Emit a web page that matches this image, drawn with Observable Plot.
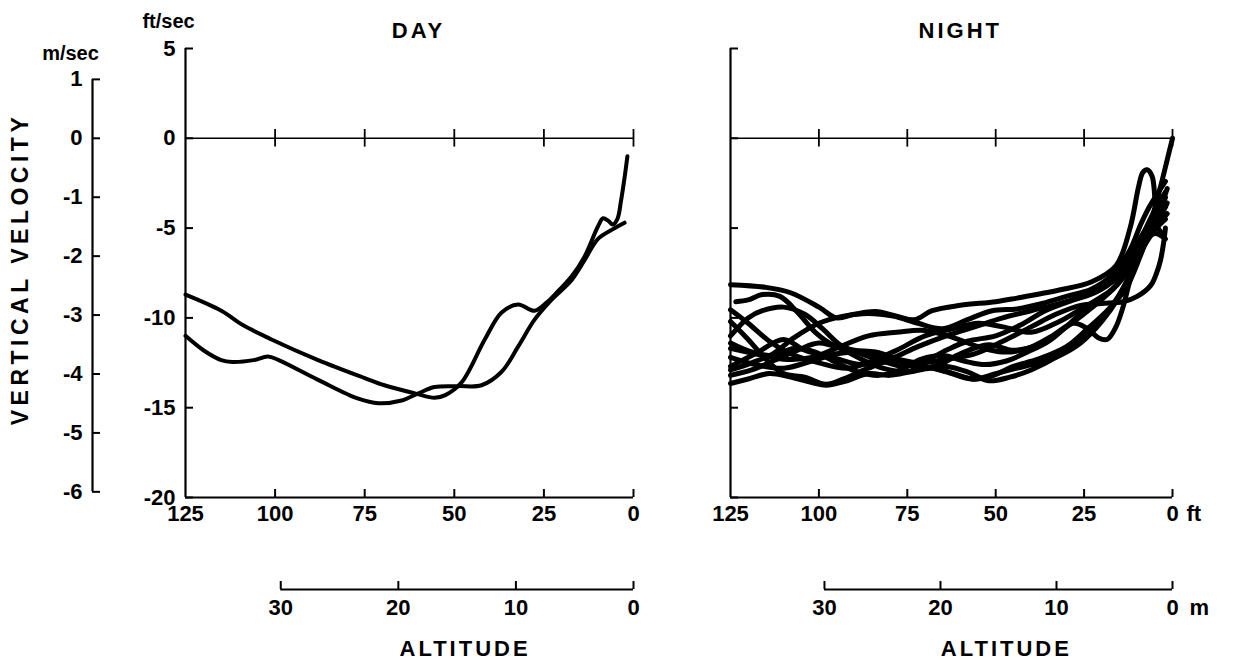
<!DOCTYPE html>
<html><head><meta charset="utf-8">
<script src="https://cdn.jsdelivr.net/npm/d3@7"></script>
<script src="https://cdn.jsdelivr.net/npm/@observablehq/plot@0.6"></script>
<style>
body{margin:0;background:#fff;}
#wrap{position:relative;width:1238px;height:660px;overflow:hidden;background:#fff;}
#day{position:absolute;left:0;top:0;}
#night{position:absolute;left:650px;top:0;}
text[aria-label="big-label"]{letter-spacing:3px;}
text[aria-label="y-title"]{letter-spacing:4.5px;}
</style></head><body><div id="wrap"><div id="day"></div><div id="night"></div></div>
<script>
const FT_PER_M = 3.2808;
const altTicksFt = [125, 100, 75, 50, 25, 0];
const altTicksM = [30, 20, 10, 0];
const velTicksFt = [5, 0, -5, -10, -15, -20];
const velTicksM = [1, 0, -1, -2, -3, -4, -5, -6];
const panelTitles = ["DAY", "NIGHT"];
const axisTitleX = "ALTITUDE";
const axisTitleY = "VERTICAL VELOCITY";

// [altitude ft, vertical velocity ft/sec]
const dayRunA = [[125,-8.7],[115,-9.6],[109,-10.4],[101,-11.2],[88,-12.35],[75,-13.35],[69.5,-13.75],[61,-14.2],[55.5,-14.45],[52.5,-14.3],[48,-13.6],[41.5,-11.2],[36.8,-9.7],[32.2,-9.25],[27.6,-9.6],[24,-9.1],[21,-8.5],[17.3,-7.7],[13.7,-6.6],[9.9,-4.9],[8.5,-4.45],[7,-4.6],[5.8,-4.8],[4.5,-4.5],[3.5,-3.5],[2.5,-2.2],[1.7,-1.0]];
const dayRunB = [[125,-11.0],[120,-11.8],[115,-12.35],[112,-12.45],[106,-12.35],[102,-12.15],[99,-12.35],[88,-13.45],[76.8,-14.5],[71.2,-14.75],[64.7,-14.6],[60,-14.2],[55.5,-13.85],[49,-13.8],[42.4,-13.75],[36.8,-13.0],[32.2,-11.6],[27.6,-10.1],[22.9,-9.0],[17.3,-7.9],[13.7,-6.8],[9.9,-5.6],[6.1,-5.1],[2.5,-4.7]];

const night1 = [[125,-8.15],[115,-8.3],[108,-8.6],[100,-9.4],[95,-10.0],[90,-9.8],[84,-9.65],[78,-9.9],[73,-10.1],[68,-9.6],[60,-9.3],[50,-9.1],[44,-8.9],[32,-8.45],[23,-8.0],[16,-7.1],[12,-5.0],[9.6,-2.7],[8.4,-1.9],[7.2,-1.75],[5.8,-2.1],[5.0,-3.3],[4.5,-4.8],[3,-5.3]];
const night2 = [[125,-12.7],[118,-12.0],[110,-11.2],[104,-11.8],[96,-12.2],[88,-12.6],[80,-12.3],[72,-11.6],[64,-11.0],[56,-10.5],[48,-10.0],[40,-9.6],[32,-9.2],[24,-8.7],[18,-8.0],[13,-7.0],[9,-5.7],[6,-4.5],[3.4,-2.7],[1.5,-1.2],[0,0]];
const night3 = [[123.5,-9.1],[120,-9.0],[116,-8.7],[111,-8.8],[106,-9.7],[101,-10.8],[96,-11.5],[90,-11.8],[84,-11.9],[78,-12.3],[72,-12.8],[66,-12.6],[60,-12.0],[52,-11.5],[45,-11.8],[38,-11.5],[30,-10.5],[22,-9.3],[16,-8.2],[12,-7.0],[8,-5.2],[5,-4.0],[2,-3.0]];
const night4 = [[125,-9.55],[120,-10.3],[114,-11.3],[108,-12.0],[100,-12.5],[92,-12.8],[85,-12.4],[78,-11.8],[70,-11.0],[62,-10.6],[55,-10.3],[48,-10.5],[40,-10.8],[32,-10.2],[25,-9.4],[18,-8.6],[13,-7.5],[9,-6.0],[6,-4.8],[3,-3.6],[1.5,-2.8]];
const night5 = [[125,-10.2],[120,-11.2],[115,-12.3],[110,-13.1],[104,-13.3],[98,-13.7],[93,-13.4],[86,-12.8],[80,-12.4],[72,-12.6],[64,-13.0],[57,-13.4],[52,-13.3],[45,-12.7],[38,-12.3],[30,-11.6],[24,-10.6],[18,-9.5],[13,-8.3],[9,-6.5],[6,-5.0],[3,-4.2],[1.5,-3.6]];
const night6 = [[125,-11.0],[120,-10.0],[116,-9.6],[110,-9.4],[104,-9.8],[99,-10.6],[94,-11.5],[88,-12.0],[82,-12.4],[76,-12.7],[70,-12.4],[64,-11.8],[58,-11.3],[50,-11.0],[43,-10.4],[36,-9.6],[28,-9.0],[22,-8.6],[16,-7.8],[12,-6.6],[8,-5.2],[5,-4.4],[2,-3.3]];
const night7 = [[125,-11.7],[118,-12.0],[110,-12.3],[102,-12.2],[94,-11.6],[86,-11.0],[78,-10.8],[70,-10.7],[62,-11.1],[55,-11.6],[48,-11.9],[41,-11.7],[34,-11.0],[28,-10.3],[24,-10.6],[21,-11.1],[18.5,-11.2],[16,-10.5],[14,-9.4],[12,-7.9],[10,-6.8],[7,-5.4],[4.5,-4.3],[2,-3.8]];
const night8 = [[125,-12.2],[118,-12.6],[110,-12.8],[102,-12.4],[95,-12.0],[88,-11.9],[80,-12.2],[72,-12.5],[64,-12.3],[56,-12.0],[48,-11.3],[40,-10.5],[33,-9.8],[26,-9.3],[20,-9.2],[14,-9.1],[10,-8.8],[6.2,-8.2],[4.5,-7.5],[3.4,-6.8],[2.5,-5.8],[2,-5.0]];
const night9 = [[125,-13.2],[119,-12.9],[113,-12.4],[106,-11.8],[100,-11.4],[94,-11.7],[88,-12.3],[82,-12.8],[76,-13.0],[70,-12.8],[64,-12.7],[58,-13.0],[52,-13.5],[46,-13.3],[40,-12.9],[33,-12.2],[27,-11.4],[21,-10.3],[16,-9.0],[12,-7.6],[8,-6.0],[5,-5.1],[2,-4.5]];
const night10 = [[125,-13.65],[120,-13.4],[114,-13.1],[108,-13.3],[102,-13.6],[98,-13.75],[92,-13.5],[86,-13.1],[80,-13.2],[74,-13.0],[68,-12.8],[62,-13.1],[56,-13.4],[50,-13.1],[44,-12.8],[38,-12.5],[32,-12.1],[26,-11.4],[20,-10.2],[15,-8.8],[11,-7.2],[7,-5.6],[4,-4.8],[1.5,-4.2]];
const night11 = [[125,-12.9],[119,-12.5],[113,-12.0],[107,-11.1],[100,-10.3],[93,-9.9],[86,-9.75],[79,-9.9],[72,-10.3],[65,-10.6],[58,-10.1],[51,-9.6],[44,-9.5],[37,-9.2],[30,-8.8],[23,-8.4],[17,-7.6],[12,-6.2],[9,-4.8],[6.5,-3.8],[4,-3.0],[2,-2.4]];
const night12 = [[125,-11.4],[119,-11.9],[113,-12.1],[107,-11.7],[101,-11.9],[95,-12.5],[89,-13.0],[83,-13.2],[77,-12.9],[71,-12.3],[65,-12.1],[59,-12.4],[53,-12.6],[47,-12.4],[41,-11.9],[35,-11.3],[29,-10.3],[23,-9.2],[17,-8.4],[12,-7.2],[8,-5.8],[5,-5.3],[2,-5.6]];

const dayRuns = [dayRunA, dayRunB];
const nightRuns = [night1, night2, night3, night4, night5, night6, night7, night8, night9, night10, night11, night12];

const FONT = "'Liberation Sans', Arial, sans-serif";
const H = 660, MT = 48, MB = 163;
const velMin = velTicksFt[velTicksFt.length - 1], velMax = velTicksFt[0];
const altMax = altTicksFt[0];
const pxPerVel = (H - MT - MB) / (velMax - velMin);
const meterDy = 92;
const TXT = {fontWeight: "bold", fontFamily: FONT, fill: "black"};
const TICKFONT = 22;

function flat(runs) {
  return runs.flatMap((r, i) => r.map(([alt, vel]) => ({run: i, alt, vel})));
}

function panel({runs, title, width, marginLeft, marginRight, labels, strokeWidth, extra}) {
  const pxPerAlt = (width - marginLeft - marginRight) / altMax;
  const tAlt = 8 / pxPerAlt;
  const tVel = 8 / pxPerVel;
  const marks = [
    Plot.ruleX([altMax], {strokeWidth: 2.2}),
    Plot.ruleY([velMin], {strokeWidth: 2.2}),
    Plot.ruleY(velTicksFt, {x1: altMax, x2: altMax - tAlt, strokeWidth: 2}),
    Plot.axisY(velTicksFt, {anchor: "left", tickSize: 0, tickPadding: 10, label: null,
      tickFormat: labels ? (d => String(d)) : (() => ""), fontSize: TICKFONT, ...TXT}),
    Plot.ruleX(altTicksFt.slice(1), {y1: velMin, y2: velMin + tVel, strokeWidth: 2}),
    Plot.axisX(altTicksFt, {anchor: "bottom", tickSize: 0, tickPadding: 8, label: null,
      tickFormat: d => String(d), fontSize: TICKFONT, ...TXT}),
    Plot.ruleY([velMin], {x1: altTicksM[0] * FT_PER_M, x2: 0, dy: meterDy, strokeWidth: 2.2}),
    Plot.ruleX(altTicksM.map(m => m * FT_PER_M), {y1: velMin, y2: velMin + tVel, dy: meterDy, strokeWidth: 2}),
    Plot.axisX(altTicksM.map(m => m * FT_PER_M), {anchor: "bottom", tickSize: 0, tickPadding: 10, dy: meterDy, label: null,
      tickFormat: d => String(Math.round(d / FT_PER_M)), fontSize: TICKFONT, ...TXT}),
    Plot.ruleY([0], {strokeWidth: 1.6}),
    Plot.ruleX(altTicksFt.slice(1), {y1: -1.1 * tVel, y2: 1.1 * tVel, strokeWidth: 1.8}),
    Plot.line(flat(runs), {x: "alt", y: "vel", z: "run", curve: "catmull-rom", stroke: "black", strokeWidth, strokeLinejoin: "round", strokeLinecap: "round"}),
    Plot.text([title], {x: 60, frameAnchor: "top", lineAnchor: "middle", textAnchor: "middle", dy: -18, fontSize: 22, ariaLabel: () => "big-label", ...TXT}),
    Plot.text([axisTitleX], {x: 47, frameAnchor: "bottom", lineAnchor: "middle", textAnchor: "middle", dy: 151, fontSize: 22, ariaLabel: () => "big-label", ...TXT}),
    ...extra
  ];
  return Plot.plot({
    width, height: H, marginTop: MT, marginBottom: MB, marginLeft, marginRight,
    x: {domain: [altMax, 0]},
    y: {domain: [velMin, velMax]},
    style: {background: "white", color: "black", fontFamily: FONT, overflow: "visible"},
    marks
  });
}

const dayLeft = 185, dayRight = 17, dayWidth = 650;
const dayTAlt = 8 / ((dayWidth - dayLeft - dayRight) / altMax);
const dayExtra = [
  Plot.ruleX([altMax], {y1: velTicksM[velTicksM.length - 1] * FT_PER_M, y2: velTicksM[0] * FT_PER_M, dx: -93, strokeWidth: 2.2}),
  Plot.ruleY(velTicksM.map(m => m * FT_PER_M), {x1: altMax, x2: altMax - dayTAlt, dx: -93, strokeWidth: 2}),
  Plot.axisY(velTicksM.map(m => m * FT_PER_M), {anchor: "left", dx: -93, tickSize: 0, tickPadding: 10, label: null,
    tickFormat: d => String(Math.round(d / FT_PER_M)), fontSize: TICKFONT, ...TXT}),
  Plot.text(["ft/sec"], {frameAnchor: "top-left", textAnchor: "middle", lineAnchor: "middle", dx: -17, dy: -27, fontSize: 20, ...TXT}),
  Plot.text(["m/sec"], {frameAnchor: "top-left", textAnchor: "middle", lineAnchor: "middle", dx: -115, dy: 5, fontSize: 20, ...TXT}),
  Plot.text([axisTitleY], {frameAnchor: "left", textAnchor: "middle", lineAnchor: "middle", dx: -165, dy: -4, rotate: -90, fontSize: 23, ariaLabel: () => "y-title", ...TXT})
];

const nightExtra = [
  Plot.text(["ft"], {x: 0, frameAnchor: "bottom", lineAnchor: "top", textAnchor: "start", dy: 8, dx: 14, fontSize: TICKFONT, ...TXT}),
  Plot.text(["m"], {x: 0, frameAnchor: "bottom", lineAnchor: "top", textAnchor: "start", dy: meterDy + 10, dx: 17, fontSize: TICKFONT, ...TXT})
];

document.getElementById("day").append(panel({runs: dayRuns, title: panelTitles[0], width: dayWidth, marginLeft: dayLeft, marginRight: dayRight, labels: true, strokeWidth: 4, extra: dayExtra}));
document.getElementById("night").append(panel({runs: nightRuns, title: panelTitles[1], width: 588, marginLeft: 80, marginRight: 66, labels: false, strokeWidth: 5, extra: nightExtra}));
</script></body></html>
